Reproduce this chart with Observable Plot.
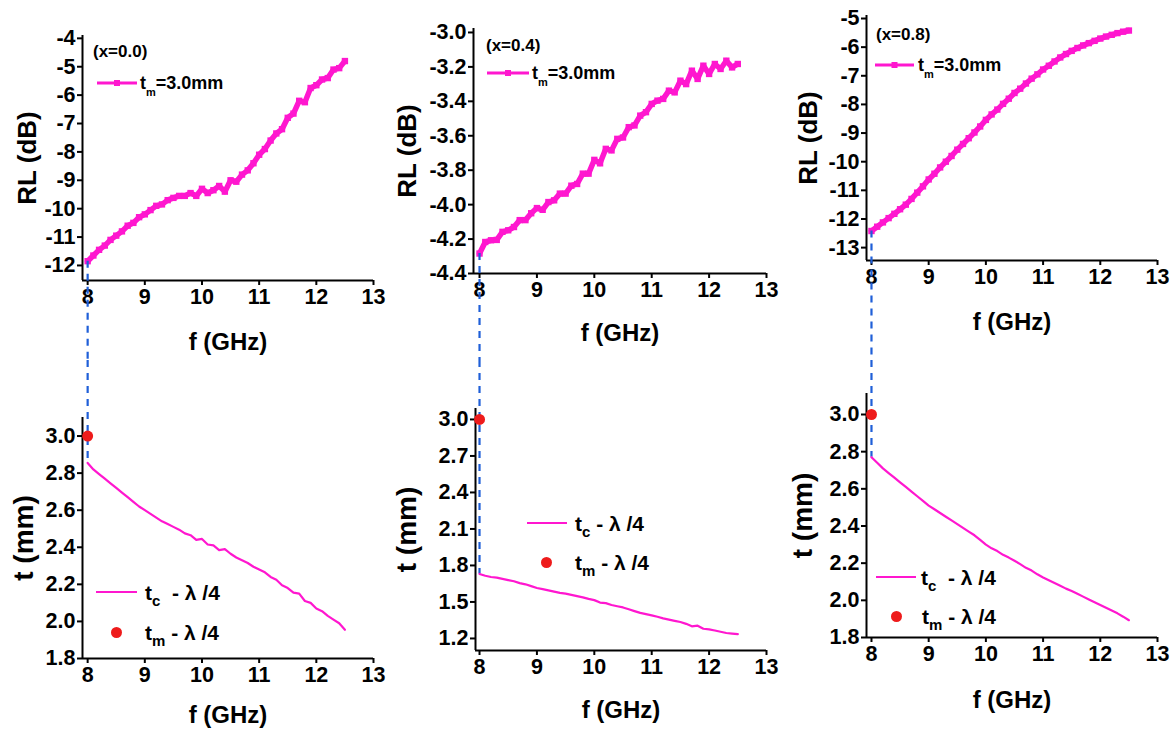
<!DOCTYPE html>
<html>
<head>
<meta charset="utf-8">
<script src="https://cdn.jsdelivr.net/npm/d3@7"></script>
<script src="https://cdn.jsdelivr.net/npm/@observablehq/plot@0.6"></script>
<style>
  html, body { margin: 0; padding: 0; background: #fff; }
  #root { position: relative; width: 1174px; height: 731px; overflow: hidden; background: #fff;
          font-family: "Liberation Sans", Arial, sans-serif; font-weight: bold; color: #000; }
  .lg { position: absolute; white-space: pre; line-height: 1; }
  .sw { position: absolute; overflow: visible; }
  .sub { position: relative; }
</style>
</head>
<body>
<div id="root"></div>
<script>
// ---------------- data ----------------
const F = [8.0, 8.1, 8.2, 8.3, 8.4, 8.5, 8.6, 8.7, 8.8, 8.9,
           9.0, 9.1, 9.2, 9.3, 9.4, 9.5, 9.6, 9.7, 9.8, 9.9,
           10.0, 10.1, 10.2, 10.3, 10.4, 10.5, 10.6, 10.7, 10.8, 10.9,
           11.0, 11.1, 11.2, 11.3, 11.4, 11.5, 11.6, 11.7, 11.8, 11.9,
           12.0, 12.1, 12.2, 12.3, 12.4, 12.5];

const RL_x00 = [-11.85, -11.65, -11.45, -11.3, -11.1, -10.95, -10.8, -10.6, -10.5, -10.3,
                -10.2, -10.05, -9.9, -9.85, -9.7, -9.62, -9.55, -9.55, -9.45, -9.55,
                -9.3, -9.45, -9.35, -9.2, -9.4, -9.0, -9.05, -8.8, -8.65, -8.4,
                -8.1, -7.9, -7.6, -7.35, -7.2, -6.8, -6.65, -6.2, -6.25, -5.75,
                -5.65, -5.45, -5.4, -5.1, -5.05, -4.8];

const RL_x04 = [-4.284, -4.217, -4.207, -4.205, -4.158, -4.149, -4.13, -4.09, -4.09, -4.05,
                -4.02, -4.03, -3.985, -3.975, -3.936, -3.936, -3.89, -3.88, -3.82, -3.82,
                -3.74, -3.76, -3.676, -3.685, -3.618, -3.61, -3.55, -3.54, -3.483, -3.463,
                -3.415, -3.396, -3.386, -3.338, -3.348, -3.28, -3.30, -3.222, -3.27, -3.193,
                -3.241, -3.183, -3.212, -3.164, -3.203, -3.183];

const RL_x08 = [-12.42, -12.27, -12.12, -11.97, -11.82, -11.66, -11.5, -11.3, -11.08, -10.86,
                -10.62, -10.42, -10.2, -10.0, -9.8, -9.58, -9.38, -9.18, -8.98, -8.77,
                -8.54, -8.35, -8.18, -7.98, -7.8, -7.6, -7.45, -7.27, -7.1, -6.95,
                -6.78, -6.65, -6.5, -6.36, -6.24, -6.13, -6.03, -5.94, -5.86, -5.78,
                -5.7, -5.63, -5.57, -5.51, -5.46, -5.42];

const T_x00 = [2.855, 2.82, 2.795, 2.77, 2.745, 2.72, 2.695, 2.67, 2.645, 2.62,
               2.6, 2.58, 2.56, 2.54, 2.525, 2.51, 2.495, 2.475, 2.465, 2.44,
               2.445, 2.415, 2.41, 2.385, 2.39, 2.365, 2.345, 2.33, 2.315, 2.295,
               2.28, 2.265, 2.24, 2.225, 2.195, 2.18, 2.155, 2.15, 2.11, 2.1,
               2.07, 2.055, 2.03, 2.01, 1.99, 1.955];

const T_x04 = [1.73, 1.715, 1.705, 1.70, 1.69, 1.68, 1.67, 1.655, 1.645, 1.63,
               1.615, 1.605, 1.595, 1.585, 1.575, 1.568, 1.558, 1.548, 1.538, 1.525,
               1.515, 1.495, 1.49, 1.475, 1.465, 1.455, 1.44, 1.425, 1.41, 1.4,
               1.39, 1.378, 1.365, 1.355, 1.345, 1.335, 1.32, 1.30, 1.305, 1.28,
               1.275, 1.265, 1.255, 1.245, 1.24, 1.235];

const T_x08 = [2.77, 2.74, 2.71, 2.685, 2.66, 2.635, 2.61, 2.585, 2.56, 2.535,
               2.51, 2.49, 2.47, 2.45, 2.43, 2.41, 2.39, 2.37, 2.35, 2.325,
               2.30, 2.28, 2.265, 2.245, 2.23, 2.213, 2.195, 2.175, 2.16, 2.14,
               2.123, 2.108, 2.093, 2.078, 2.063, 2.05, 2.035, 2.02, 2.005, 1.99,
               1.975, 1.96, 1.945, 1.93, 1.912, 1.893];

const tmFreq = 8;          // GHz
const tmValues = [3.0, 3.0, 3.0];  // measured thickness (mm)

const compLabels = ["(x=0.0)", "(x=0.4)", "(x=0.8)"];
const xTicks = [8, 9, 10, 11, 12, 13];
const rlTicks00 = [-12, -11, -10, -9, -8, -7, -6, -5, -4];
const rlTicks04 = [-4.4, -4.2, -4.0, -3.8, -3.6, -3.4, -3.2, -3.0];
const rlTicks08 = [-13, -12, -11, -10, -9, -8, -7, -6, -5];
const tTicks00 = [1.8, 2.0, 2.2, 2.4, 2.6, 2.8, 3.0];
const tTicks04 = [1.2, 1.5, 1.8, 2.1, 2.4, 2.7, 3.0];
const tTicks08 = [1.8, 2.0, 2.2, 2.4, 2.6, 2.8, 3.0];

// ---------------- style ----------------
const MAGENTA = "#ff17cf";
const RED = "#ee1b1b";
const BLUE = "#1f5fd8";
const FONT = "'Liberation Sans', Arial, sans-serif";
const TICK_SIZE = 21.5;
const root = document.getElementById("root");

const rows = (vals) => F.map((f, i) => ({f, v: vals[i]}));
const int = d => String(d);
const one = d => d.toFixed(1);

function makePlot(o) {
  const [y0, y1] = o.yDomain;
  const innerH = o.height - o.mTop - o.mBottom;
  const k = (y1 - y0) / innerH;   // data units per pixel
  const marks = [
    Plot.ruleX([o.xMin], {stroke: "#000", strokeWidth: 2}),
    Plot.ruleY([y0], {stroke: "#000", strokeWidth: 2}),
    Plot.axisX({ticks: xTicks, tickSize: 5, tickPadding: 3, strokeWidth: 2,
                fontSize: TICK_SIZE, fontWeight: "bold", tickFormat: int, label: null}),
    Plot.axisY({ticks: o.yTicks, tickSize: 5, tickPadding: 2, strokeWidth: 2,
                fontSize: TICK_SIZE, fontWeight: "bold", tickFormat: o.fmt, label: null}),
    Plot.text([o.yLabel], {text: d => d, frameAnchor: "left", rotate: -90, dx: o.yLabelDx,
                textAnchor: "middle", lineAnchor: "middle", fontSize: o.yLabelSize, fontWeight: "bold"}),
    Plot.text(["f (GHz)"], {text: d => d, frameAnchor: "bottom", dy: o.xLabelDy,
                textAnchor: "middle", lineAnchor: "middle", fontSize: 24, fontWeight: "bold"}),
    ...o.marks(k, y0, y1)
  ];
  const p = Plot.plot({
    width: o.width, height: o.height,
    marginLeft: o.mLeft, marginRight: o.mRight, marginTop: o.mTop, marginBottom: o.mBottom,
    x: {domain: [o.xMin, 13]},
    y: {domain: o.yDomain},
    style: {background: "transparent", overflow: "visible", fontFamily: FONT, fontWeight: "bold", color: "#000"},
    marks
  });
  p.style.position = "absolute";
  p.style.left = o.left + "px";
  p.style.top = o.top + "px";
  root.append(p);
}

function topMarks(rl, mBottom) {
  return (k, y0) => {
    const d = rows(rl);
    return [
      Plot.line(d, {x: "f", y: "v", stroke: MAGENTA, strokeWidth: 5.5}),
      Plot.dot(d, {x: "f", y: "v", symbol: "square", r: 3.6, fill: MAGENTA}),
      Plot.ruleX([{f: tmFreq, a: rl[0], b: y0 - mBottom * k}],
                 {x: "f", y1: "a", y2: "b", stroke: BLUE, strokeWidth: 2.2, strokeDasharray: "7,6"})
    ];
  };
}
function bottomMarks(t, tm, mTop) {
  return (k, y0, y1) => {
    const d = rows(t);
    return [
      Plot.ruleX([{f: tmFreq, a: y1 + mTop * k, b: t[0]}],
                 {x: "f", y1: "a", y2: "b", stroke: BLUE, strokeWidth: 2.2, strokeDasharray: "7,6"}),
      Plot.line(d, {x: "f", y: "v", stroke: MAGENTA, strokeWidth: 2.2}),
      Plot.dot([{f: tmFreq, v: tm}], {x: "f", y: "v", r: 5.5, fill: RED})
    ];
  };
}

// Top row
makePlot({left: 0, top: 0, width: 390, height: 360, mLeft: 82, mRight: 17, mTop: 35, mBottom: 80,
  xMin: 7.91, yDomain: [-12.53, -3.9], yTicks: rlTicks00, fmt: int,
  yLabel: "RL (dB)", yLabelDx: -55, yLabelSize: 26, xLabelDy: 62, marks: topMarks(RL_x00, 80)});
makePlot({left: 390, top: 0, width: 384, height: 360, mLeft: 83, mRight: 8, mTop: 28, mBottom: 87,
  xMin: 7.895, yDomain: [-4.4, -2.977], yTicks: rlTicks04, fmt: one,
  yLabel: "RL (dB)", yLabelDx: -66, yLabelSize: 26, xLabelDy: 60, marks: topMarks(RL_x04, 87)});
makePlot({left: 774, top: 0, width: 400, height: 360, mLeft: 92, mRight: 17, mTop: 15, mBottom: 100,
  xMin: 7.913, yDomain: [-13.45, -4.895], yTicks: rlTicks08, fmt: int,
  yLabel: "RL (dB)", yLabelDx: -58, yLabelSize: 26, xLabelDy: 62, marks: topMarks(RL_x08, 100)});

// Bottom row
makePlot({left: 0, top: 360, width: 390, height: 371, mLeft: 82, mRight: 17, mTop: 57, mBottom: 73,
  xMin: 7.91, yDomain: [1.8, 3.1], yTicks: tTicks00, fmt: one,
  yLabel: "t (mm)", yLabelDx: -58, yLabelSize: 28, xLabelDy: 57, marks: bottomMarks(T_x00, tmValues[0], 57)});
makePlot({left: 390, top: 360, width: 384, height: 371, mLeft: 85, mRight: 8, mTop: 48, mBottom: 81,
  xMin: 7.93, yDomain: [1.101, 3.09], yTicks: tTicks04, fmt: one,
  yLabel: "t (mm)", yLabelDx: -68, yLabelSize: 28, xLabelDy: 60, marks: bottomMarks(T_x04, tmValues[1], 48)});
makePlot({left: 774, top: 360, width: 400, height: 371, mLeft: 92, mRight: 17, mTop: 33, mBottom: 94,
  xMin: 7.913, yDomain: [1.8, 3.113], yTicks: tTicks08, fmt: one,
  yLabel: "t (mm)", yLabelDx: -63, yLabelSize: 28, xLabelDy: 63, marks: bottomMarks(T_x08, tmValues[2], 33)});

// ---------------- legends (HTML) ----------------
function addText(html, left, cy, size) {
  const d = document.createElement("div");
  d.className = "lg";
  d.style.left = left + "px";
  d.style.top = (cy - size / 2) + "px";
  d.style.fontSize = size + "px";
  d.innerHTML = html;
  root.append(d);
}
function addSwatch(x1, x2, cy, sw, square) {
  const ns = "http://www.w3.org/2000/svg";
  const s = document.createElementNS(ns, "svg");
  s.setAttribute("class", "sw");
  s.setAttribute("width", x2 - x1);
  s.setAttribute("height", 10);
  s.style.left = x1 + "px";
  s.style.top = (cy - 5) + "px";
  const l = document.createElementNS(ns, "line");
  l.setAttribute("x1", 0); l.setAttribute("x2", x2 - x1);
  l.setAttribute("y1", 5); l.setAttribute("y2", 5);
  l.setAttribute("stroke", MAGENTA); l.setAttribute("stroke-width", sw);
  s.append(l);
  if (square) {
    const r = document.createElementNS(ns, "rect");
    const c = (x2 - x1) / 2;
    r.setAttribute("x", c - 3); r.setAttribute("y", 2);
    r.setAttribute("width", 6); r.setAttribute("height", 6);
    r.setAttribute("fill", MAGENTA);
    s.append(r);
  }
  root.append(s);
}
function addDot(cx, cy, r) {
  const ns = "http://www.w3.org/2000/svg";
  const s = document.createElementNS(ns, "svg");
  s.setAttribute("class", "sw");
  s.setAttribute("width", 2 * r); s.setAttribute("height", 2 * r);
  s.style.left = (cx - r) + "px"; s.style.top = (cy - r) + "px";
  const c = document.createElementNS(ns, "circle");
  c.setAttribute("cx", r); c.setAttribute("cy", r); c.setAttribute("r", r);
  c.setAttribute("fill", RED);
  s.append(c);
  root.append(s);
}
const tmLegend = `t<span class="sub" style="font-size:11px;top:7px">m</span>=${tmValues[0].toFixed(1)}mm`;
const tcLegend = (sp) => `t<span class="sub" style="font-size:15px;top:6px">c</span>${sp}- λ /4`;
const tmLegend2 = `t<span class="sub" style="font-size:15px;top:6px">m</span> - λ /4`;

// top legends
const topLeg = [
  {lx: 93, ly: 51, sx1: 97, sx2: 137, sy: 83, tx: 140},
  {lx: 486, ly: 45, sx1: 487, sx2: 529, sy: 73, tx: 532},
  {lx: 876, ly: 34, sx1: 875, sx2: 914, sy: 65, tx: 918}
];
topLeg.forEach((g, i) => {
  addText(compLabels[i], g.lx, g.ly, 17);
  addSwatch(g.sx1, g.sx2, g.sy, 3, true);
  addText(tmLegend, g.tx, g.sy, 18);
});
// bottom legends
const botLeg = [
  {sx1: 96, sx2: 137, sy: 592, tx: 145, dx: 116, dy: 632, tx2: 145, sp: "  "},
  {sx1: 527, sx2: 567, sy: 523, tx: 575, dx: 546, dy: 562, tx2: 575, sp: " "},
  {sx1: 876, sx2: 916, sy: 577, tx: 921, dx: 896, dy: 616, tx2: 922, sp: "  "}
];
botLeg.forEach(g => {
  addSwatch(g.sx1, g.sx2, g.sy, 2, false);
  addText(tcLegend(g.sp), g.tx, g.sy, 21);
  addDot(g.dx, g.dy, 5.5);
  addText(tmLegend2, g.tx2, g.dy, 21);
});
</script>
</body>
</html>
